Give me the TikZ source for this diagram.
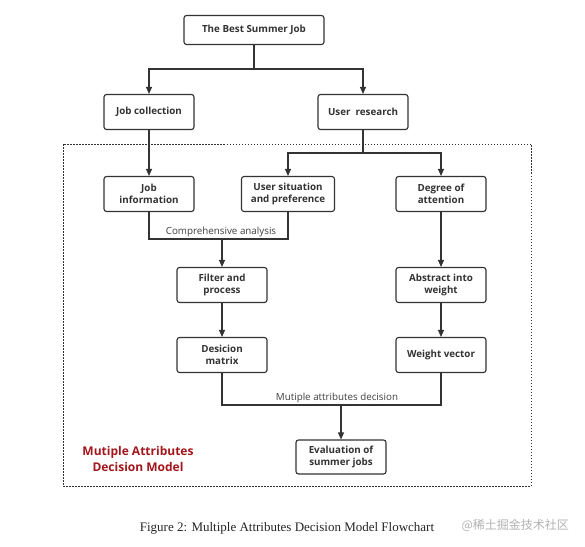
\documentclass[tikz,border=0pt]{standalone}
\usepackage{fontspec}
\setmainfont{Open Sans}
\newfontfamily\capfont{Liberation Serif}
\newfontfamily\cjkfont{Noto Sans CJK SC}
\usetikzlibrary{arrows.meta}
\definecolor{boxline}{HTML}{333333}
\definecolor{modelred}{HTML}{A3161C}
\tikzset{
  x=1pt, y=-1pt,
  box/.style={draw=boxline, line width=1.1pt, rounded corners=2.5pt, minimum width=90pt, minimum height=35pt,
    align=center, font=\fontsize{9.8}{12}\selectfont\bfseries, text=black!80, inner sep=1pt},
  conn/.style={draw=boxline, line width=1.1pt},
  arr/.style={conn, -{Triangle[length=7pt, width=6pt]}},
  lbl/.style={font=\fontsize{9.8}{11}\selectfont, text=black!75, inner sep=1pt},
}
\begin{document}
\begin{tikzpicture}
\useasboundingbox (0,0) rectangle (585,546);
\fill[white] (0,0) rectangle (585,546);
% dotted frame
\draw[boxline, line width=1pt, dash pattern=on 1.5pt off 1.5pt] (63,144) rectangle (531,486);
% nodes
\node[box, minimum width=140pt, minimum height=29pt] (top) at (254,30) {The Best Summer Job};
\node[box] (jc) at (149,112) {Job collection};
\node[box] (ur) at (363,112) {User\ \ research};
\node[box] (ji) at (149,194) {Job\\information};
\node[box, minimum width=93pt] (us) at (288,194) {User situation\\and preference};
\node[box] (da) at (441,194) {Degree of\\attention};
\node[box] (fp) at (222,285) {Filter and\\process};
\node[box] (aw) at (441,285) {Abstract into\\weight};
\node[box] (dm) at (222,355) {Desicion\\matrix};
\node[box] (wv) at (441,355) {Weight vector};
\node[box, minimum height=34pt] (ev) at (341,457) {Evaluation of\\summer jobs};
% junction coordinates
\coordinate (j1) at (254,69);
\coordinate (j2) at (363,153);
\coordinate (j3) at (222,239);
\coordinate (j4) at (341,405);
% connectors
\draw[conn] (top.south) -- (j1);
\draw[arr] (j1) -| (jc.north);
\draw[arr] (j1) -| (ur.north);
\draw[arr] (jc.south) -- (ji.north);
\draw[conn] (ur.south) -- (j2);
\draw[arr] (j2) -| (us.north);
\draw[arr] (j2) -| (da.north);
\draw[conn] (ji.south) |- (j3);
\draw[conn] (us.south) |- (j3);
\draw[arr] (j3) -- (fp.north);
\draw[arr] (da.south) -- (aw.north);
\draw[arr] (fp.south) -- (dm.north);
\draw[arr] (aw.south) -- (wv.north);
\draw[conn] (dm.south) |- (j4);
\draw[conn] (wv.south) |- (j4);
\draw[arr] (j4) -- (ev.north);
% labels
\node[lbl, anchor=south] (la) at (221,238) {Comprehensive analysis};
\node[lbl, anchor=south] (lb) at (337,404) {Mutiple attributes decision};
\node[align=center, text=modelred, font=\fontsize{12}{15.5}\selectfont\bfseries] (model) at (138,459) {Mutiple Attributes\\Decision Model};
% caption
\node[font=\capfont\fontsize{13}{14}\selectfont, text=black!85] (cap) at (287,528) {Figure 2: Multiple Attributes Decision Model Flowchart};
\node[font=\cjkfont\fontsize{12}{13}\selectfont, text=black!30, anchor=west] (wm) at (458,525) {@稀土掘金技术社区};
\end{tikzpicture}
\end{document}
